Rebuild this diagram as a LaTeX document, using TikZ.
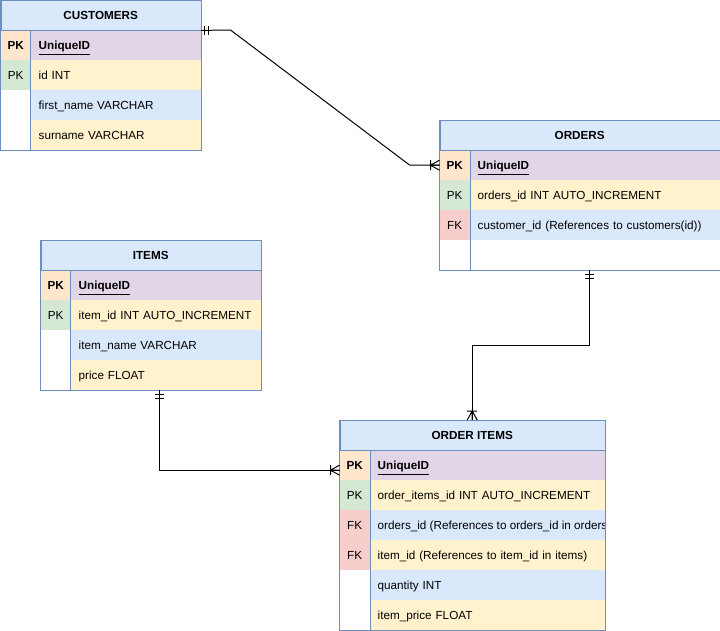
\documentclass[tikz,border=0pt]{standalone}
\usepackage{fontspec}
\setmainfont{Liberation Sans}
\usetikzlibrary{calc}
\definecolor{hdrB}{HTML}{DAE8FC}
\definecolor{brd}{HTML}{6C8EBF}
\definecolor{cOr}{HTML}{FFE6CC}
\definecolor{cPu}{HTML}{E1D5E7}
\definecolor{cGr}{HTML}{D5E8D4}
\definecolor{cYe}{HTML}{FFF2CC}
\definecolor{cRe}{HTML}{F8CECC}
\newcommand\fs{\fontsize{11.75}{13.5}\selectfont}
\newcommand\mkone[2]{\begin{scope}[shift={(#1)},rotate=#2]\draw[conn] (4,-4.5)--(4,4.5) (8,-4.5)--(8,4.5);\end{scope}}
\newcommand\mkmany[2]{\begin{scope}[shift={(#1)},rotate=#2]\draw[conn] (0,-5)--(9,0)--(0,5) (0,0)--(9,0) (9,-5)--(9,5);\end{scope}}
\tikzset{
  txt/.style={text height=11.5bp, text depth=2bp},
  hdr/.style={draw=brd, fill=hdrB, minimum height=30bp, inner sep=0pt, anchor=north west, font=\fs\bfseries, txt},
  key/.style={minimum width=30bp, minimum height=30bp, inner sep=0pt, anchor=north west, font=\fs, txt},
  cell/.style={minimum height=30bp, inner xsep=8bp, inner ysep=0pt, text width=#1bp, align=left, anchor=north west, font=\fs, txt},
  frame/.style={draw=brd, line width=0.8bp},
  conn/.style={draw=black, line width=1bp},
}
\begin{document}
\begin{tikzpicture}[x=1bp,y=-1bp]
\useasboundingbox (-0.5,0) rectangle (719.5,631);
% ---------- CUSTOMERS ----------
\node[hdr, minimum width=200bp] (cust-h) at (0,0) {CUSTOMERS};
\node[key, fill=cOr, font=\fs\bfseries] (cust-k1) at (0,30) {PK};
\node[cell=154, fill=cPu] (cust-r1) at (30,30) {\textbf{\underline{UniqueID}}};
\node[key, fill=cGr] (cust-k2) at (0,60) {PK};
\node[cell=154, fill=cYe] (cust-r2) at (30,60) {id INT};
\node[key, fill=white] (cust-k3) at (0,90) {};
\node[cell=154, fill=hdrB] (cust-r3) at (30,90) {first\_name VARCHAR};
\node[key, fill=white] (cust-k4) at (0,120) {};
\node[cell=154, fill=cYe] (cust-r4) at (30,120) {surname VARCHAR};
\draw[frame] (cust-h.north west) rectangle (cust-r4.south east);
\draw[frame] (cust-k1.north east) -- (cust-k4.south east);
\draw[frame] (cust-h.south west) -- (cust-h.south east);
% ---------- ORDERS ----------
\node[hdr, minimum width=280bp] (ord-h) at (439,120) {ORDERS};
\node[key, fill=cOr, font=\fs\bfseries] (ord-k1) at (439,150) {PK};
\node[cell=234, fill=cPu] (ord-r1) at (469,150) {\textbf{\underline{UniqueID}}};
\node[key, fill=cGr] (ord-k2) at (439,180) {PK};
\node[cell=234, fill=cYe] (ord-r2) at (469,180) {\mbox{orders\_id INT AUTO\_INCREMENT}};
\node[key, fill=cRe] (ord-k3) at (439,210) {FK};
\node[cell=234, fill=hdrB] (ord-r3) at (469,210) {\mbox{customer\_id (References to customers(id))}};
\node[key, fill=white] (ord-k4) at (439,240) {};
\node[cell=234, fill=white] (ord-r4) at (469,240) {};
\draw[frame] (ord-h.north west) rectangle (ord-r4.south east);
\draw[frame] (ord-k1.north east) -- (ord-k4.south east);
\draw[frame] (ord-h.south west) -- (ord-h.south east);
% ---------- ITEMS ----------
\node[hdr, minimum width=220bp] (itm-h) at (40,240) {ITEMS};
\node[key, fill=cOr, font=\fs\bfseries] (itm-k1) at (40,270) {PK};
\node[cell=174, fill=cPu] (itm-r1) at (70,270) {\textbf{\underline{UniqueID}}};
\node[key, fill=cGr] (itm-k2) at (40,300) {PK};
\node[cell=174, fill=cYe] (itm-r2) at (70,300) {\mbox{item\_id INT AUTO\_INCREMENT}};
\node[key, fill=white] (itm-k3) at (40,330) {};
\node[cell=174, fill=hdrB] (itm-r3) at (70,330) {item\_name VARCHAR};
\node[key, fill=white] (itm-k4) at (40,360) {};
\node[cell=174, fill=cYe] (itm-r4) at (70,360) {price FLOAT};
\draw[frame] (itm-h.north west) rectangle (itm-r4.south east);
\draw[frame] (itm-k1.north east) -- (itm-k4.south east);
\draw[frame] (itm-h.south west) -- (itm-h.south east);
% ---------- ORDER ITEMS ----------
\node[hdr, minimum width=265bp] (oi-h) at (339,420) {ORDER ITEMS};
\node[key, fill=cOr, font=\fs\bfseries] (oi-k1) at (339,450) {PK};
\node[cell=219, fill=cPu] (oi-r1) at (369,450) {\textbf{\underline{UniqueID}}};
\node[key, fill=cGr] (oi-k2) at (339,480) {PK};
\node[cell=219, fill=cYe] (oi-r2) at (369,480) {\mbox{order\_items\_id INT AUTO\_INCREMENT}};
\node[key, fill=cRe] (oi-k3) at (339,510) {FK};
\node[cell=219, fill=hdrB] (oi-r3) at (369,510) {};
\begin{scope}
\clip (oi-r3.north west) rectangle (oi-r3.south east);
\node[anchor=west, font=\fs, inner sep=0pt, txt] (oi-t3) at ([xshift=8bp]oi-r3.west) {orders\_id (References to orders\_id in orders)};
\end{scope}
\node[key, fill=cRe] (oi-k4) at (339,540) {FK};
\node[cell=219, fill=cYe] (oi-r4) at (369,540) {\mbox{item\_id (References to item\_id in items)}};
\node[key, fill=white] (oi-k5) at (339,570) {};
\node[cell=219, fill=hdrB] (oi-r5) at (369,570) {quantity INT};
\node[key, fill=white] (oi-k6) at (339,600) {};
\node[cell=219, fill=cYe] (oi-r6) at (369,600) {item\_price FLOAT};
\draw[frame] (oi-h.north west) rectangle (oi-r6.south east);
\draw[frame] (oi-k1.north east) -- (oi-k6.south east);
\draw[frame] (oi-h.south west) -- (oi-h.south east);
% ---------- connectors ----------
\coordinate (p1) at (cust-h.south east);
\coordinate (p1e) at (ord-k1.west);
\draw[conn] (p1) -- (230,30) -- (409,165) -- (p1e);
\mkone{p1}{0}
\mkmany{p1e}{180}
\coordinate (p2) at ([xshift=-5bp]ord-r4.south);
\coordinate (p2e) at (oi-h.north);
\draw[conn] (p2) -- (p2 |- 0,345) -| (p2e);
\mkone{p2}{270}
\mkmany{p2e}{90}
\coordinate (p3) at ([xshift=-6bp]itm-r4.south);
\coordinate (p3e) at ([yshift=-5bp]oi-k1.west);
\draw[conn] (p3) |- (p3e);
\mkone{p3}{270}
\mkmany{p3e}{180}
\end{tikzpicture}
\end{document}
